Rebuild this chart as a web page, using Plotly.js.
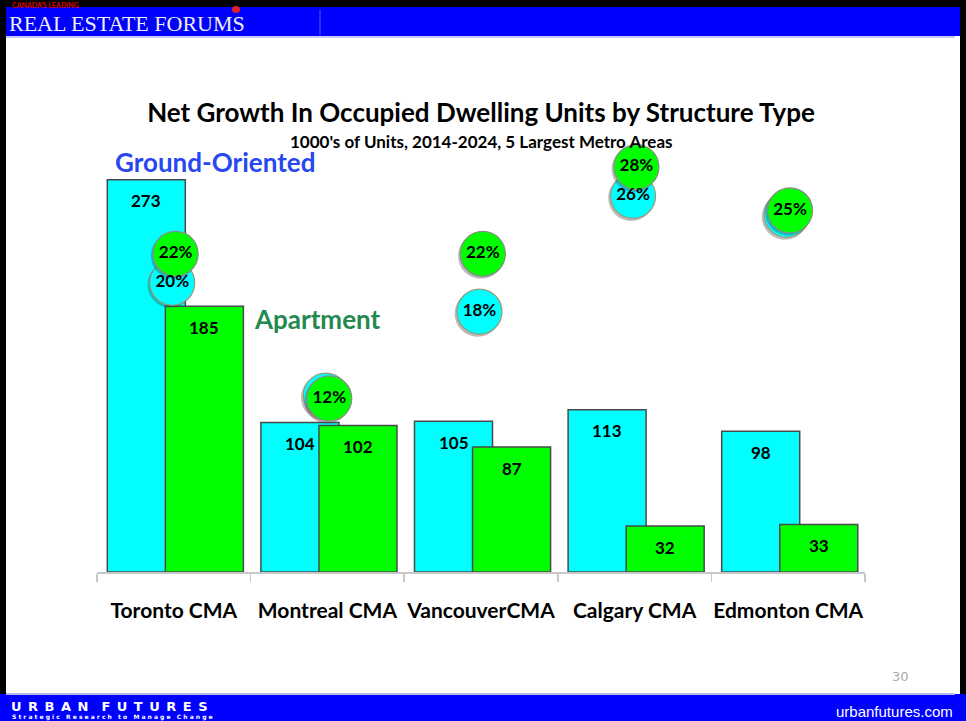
<!DOCTYPE html>
<html>
<head>
<meta charset="utf-8">
<script src="https://cdn.plot.ly/plotly-3.0.1.min.js"></script>
<style>
html,body{margin:0;padding:0;background:#fff;}
#chart{width:966px;height:721px;}
</style>
</head>
<body>
<div id="chart"></div>
<script>
// ---- data ----
const categories = ['Toronto CMA', 'Montreal CMA', 'VancouverCMA', 'Calgary CMA', 'Edmonton CMA'];
const groundUnits = [273, 104, 105, 113, 98];   // Ground-Oriented, 1000's of units
const aptUnits = [185, 102, 87, 32, 33];        // Apartment, 1000's of units
const groundShare = [20, 12.2, 18, 26, 24.7];   // % (cyan circles; Montreal/Edmonton hidden behind green, estimated)
const groundShareLabels = ['20%', '', '18%', '26%', ''];
const aptShare = [22, 12, 22, 28, 25];          // % (green circles)
const aptShareLabels = ['22%', '12%', '22%', '28%', '25%'];
const seriesNames = ['Ground-Oriented', 'Apartment'];
const titleText = 'Net Growth In Occupied Dwelling Units by Structure Type';
const subtitleText = "1000's of Units, 2014-2024, 5 Largest Metro Areas";

// ---- layout helpers (pixel -> paper) ----
const ML = 97, MT = 141, PW = 768, PH = 431;
const PX = x => (x - ML) / PW;
const PY = y => (MT + PH - y) / PH;

const idx = categories.map((_, i) => i);
const CYAN = '#00ffff', GREEN = '#00ff00';
const BAR_W = 0.508, CYAN_OFF = -0.433, GREEN_OFF = -0.055;
const FONT = 'Lato, "Open Sans", sans-serif';
const CY_DX = -0.01, GR_DX = 0.012;

const circleTrace = (xs, ys, color, lineColor) => ({
  type: 'scatter', mode: 'markers', x: xs, y: ys, yaxis: 'y2', cliponaxis: false,
  marker: {size: 45, color, line: {color: lineColor, width: 1.2}}, hoverinfo: 'skip'
});
const labelTrace = (xs, ys, labels) => ({
  type: 'scatter', mode: 'text', x: xs, y: ys, yaxis: 'y2', cliponaxis: false,
  text: labels, textposition: 'middle center',
  textfont: {family: FONT, size: 17, weight: 700, color: '#000'}, hoverinfo: 'skip'
});
const shadowTrace = (xs, ys) => ({
  type: 'scatter', mode: 'markers', x: xs.map(v => v - 0.012), y: ys.map(v => v - 0.14), yaxis: 'y2',
  cliponaxis: false, marker: {size: 46, color: 'rgba(60,60,60,0.35)', line: {width: 0}}, hoverinfo: 'skip'
});
const cyX = idx.map(i => i + CY_DX), grX = idx.map(i => i + GR_DX);

const traces = [
  {type: 'bar', name: seriesNames[0], x: idx, y: groundUnits, width: BAR_W, offset: CYAN_OFF,
   marker: {color: CYAN, line: {color: '#4a4a4a', width: 1.5}}, hoverinfo: 'skip'},
  {type: 'bar', name: seriesNames[1], x: idx, y: aptUnits, width: BAR_W, offset: GREEN_OFF,
   marker: {color: GREEN, line: {color: '#4a4a4a', width: 1.5}}, hoverinfo: 'skip'},
  shadowTrace(cyX, groundShare),
  circleTrace(cyX, groundShare, CYAN, '#9a9a70'),
  shadowTrace(grX, aptShare),
  circleTrace(grX, aptShare, GREEN, '#8a8a8a'),
  labelTrace(cyX, groundShare, groundShareLabels),
  labelTrace(grX, aptShare, aptShareLabels)
];

const annotations = [];
groundUnits.forEach((v, i) => annotations.push({
  x: i + CYAN_OFF + BAR_W / 2, y: v, xref: 'x', yref: 'y', yshift: -21, showarrow: false,
  text: String(v), font: {family: FONT, size: 17, weight: 700, color: '#000'}, yanchor: 'middle'
}));
aptUnits.forEach((v, i) => annotations.push({
  x: i + GREEN_OFF + BAR_W / 2, y: v, xref: 'x', yref: 'y', yshift: -21, showarrow: false,
  text: String(v), font: {family: FONT, size: 17, weight: 700, color: '#000'}, yanchor: 'middle'
}));
const txt = (text, x, y, size, color, opts) => Object.assign({
  text, x: PX(x), y: PY(y), xref: 'paper', yref: 'paper', showarrow: false,
  xanchor: 'center', yanchor: 'middle', font: {family: FONT, size, color, weight: 700}
}, opts || {});
annotations.push(
  txt(subtitleText, 481, 141, 17, '#000'),
  txt(seriesNames[0], 215, 162, 26, '#2747f0'),
  txt(seriesNames[1], 317, 319, 26, '#23894f'),
  txt('REAL ESTATE FORUMS', 7, 23, 22, '#f2f2f2', {xanchor: 'left', font: {family: '"Liberation Serif", serif', size: 22, color: '#eeeeee'}}),
  txt("CANADA'S LEADING", 10, 5, 7, '#e00000', {xanchor: 'left'}),
  txt('30', 900, 676, 13, '#aaaaaa', {font: {family: '"DejaVu Sans", sans-serif', size: 13, color: '#aaaaaa'}}),
  txt('U\u2002R\u2002B\u2002A\u2002N\u2002\u2002F\u2002U\u2002T\u2002U\u2002R\u2002E\u2002S', 9, 706, 13, '#ffffff',
      {xanchor: 'left', font: {family: '"DejaVu Sans", sans-serif', size: 13, color: '#ffffff', weight: 700}}),
  txt('S t r a t e g i c   R e s e a r c h   t o   M a n a g e   C h a n g e', 10, 717, 6, '#ffffff',
      {xanchor: 'left', font: {family: '"DejaVu Sans", sans-serif', size: 6, color: '#ffffff', weight: 700}}),
  txt('urbanfutures.com', 955, 711, 14, '#ffffff',
      {xanchor: 'right', font: {family: '"Liberation Sans Narrow", "Liberation Sans", sans-serif', size: 15, color: '#ffffff'}})
);

const rect = (x0, y0, x1, y1, color) => ({type: 'rect', xref: 'paper', yref: 'paper',
  x0: PX(x0), x1: PX(x1), y0: PY(y0), y1: PY(y1), fillcolor: color, line: {width: 0}, layer: 'below'});
const shapes = [
  rect(0, 0, 966, 7, '#000000'),
  rect(0, 0, 6, 694, '#000000'),
  rect(960, 0, 966, 694, '#000000'),
  rect(6, 7, 960, 36, '#0000ff'),
  rect(6, 36, 955, 38, '#c8c8f8'),
  rect(0, 694, 966, 721, '#0000ff'),
  rect(6, 693, 955, 695, '#b8b8f0'),
  {type: 'line', xref: 'paper', yref: 'paper', x0: PX(320), x1: PX(320), y0: PY(10), y1: PY(35),
   line: {color: '#5a5ad0', width: 1}, layer: 'below'},
  {type: 'circle', xref: 'paper', yref: 'paper', x0: PX(232), x1: PX(240), y0: PY(6), y1: PY(13),
   fillcolor: '#e02020', line: {width: 0}, layer: 'below'}
];

const layout = {
  width: 966, height: 721,
  margin: {l: ML, r: 966 - ML - PW, t: MT, b: 721 - MT - PH, pad: 0},
  paper_bgcolor: '#ffffff', plot_bgcolor: 'rgba(0,0,0,0)',
  showlegend: false, barmode: 'overlay',
  title: {text: titleText, x: 481 / 966, xref: 'container', xanchor: 'center',
          y: 1 - 113 / 721, yref: 'container', yanchor: 'middle',
          font: {family: FONT, size: 26, weight: 700, color: '#000'}},
  xaxis: {range: [-0.5, 4.5], tickmode: 'array', tickvals: idx, ticktext: categories,
          showgrid: false, zeroline: false, showline: true, linecolor: '#c8c8c8', linewidth: 1.5,
          ticks: 'outside', ticklen: 19, tickcolor: 'rgba(0,0,0,0)',
          tickfont: {family: FONT, size: 21, weight: 700, color: '#000'},
          minor: {ticks: 'outside', tickmode: 'linear', tick0: -0.5, dtick: 1, ticklen: 8,
                  tickcolor: '#c8c8c8', tickwidth: 1.5, showgrid: false},
          fixedrange: true},
  yaxis: {range: [0, 300], visible: false, showgrid: false, zeroline: false, fixedrange: true},
  yaxis2: {range: [0, 29.8], overlaying: 'y', visible: false, showgrid: false, zeroline: false, fixedrange: true},
  annotations, shapes
};

Plotly.newPlot('chart', traces, layout, {displayModeBar: false, staticPlot: true});
</script>
</body>
</html>
